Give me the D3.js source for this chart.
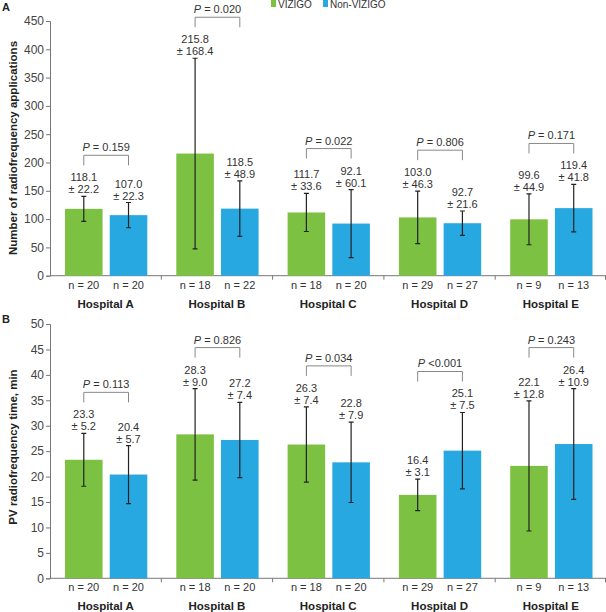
<!DOCTYPE html>
<html lang="en">
<head>
<meta charset="utf-8">
<script src="https://d3js.org/d3.v7.min.js"></script>
<style>
  body { margin: 0; background: #fff; }
  svg { font-family: "Liberation Sans", Arial, sans-serif; display: block; }
</style>
</head>
<body>
<div id="my_dataviz"></div>
<script>
// data
var hospitals = ["Hospital A", "Hospital B", "Hospital C", "Hospital D", "Hospital E"];
var groups = ["VIZIGO", "Non-VIZIGO"];

// panel A: number of radiofrequency applications (mean, SD)
var appsVizigoMean = [118.1, 215.8, 111.7, 103.0, 99.6];
var appsVizigoSd   = [22.2, 168.4, 33.6, 46.3, 44.9];
var appsNonMean    = [107.0, 118.5, 92.1, 92.7, 119.4];
var appsNonSd      = [22.3, 48.9, 60.1, 21.6, 41.8];
var appsVizigoN    = [20, 18, 18, 29, 9];
var appsNonN       = [20, 22, 20, 27, 13];
var appsP          = ["= 0.159", "= 0.020", "= 0.022", "= 0.806", "= 0.171"];
var appsTicks      = [0, 50, 100, 150, 200, 250, 300, 350, 400, 450];

// panel B: PV radiofrequency time, min (mean, SD)
var timeVizigoMean = [23.3, 28.3, 26.3, 16.4, 22.1];
var timeVizigoSd   = [5.2, 9.0, 7.4, 3.1, 12.8];
var timeNonMean    = [20.4, 27.2, 22.8, 25.1, 26.4];
var timeNonSd      = [5.7, 7.4, 7.9, 7.5, 10.9];
var timeVizigoN    = [20, 18, 18, 29, 9];
var timeNonN       = [20, 20, 20, 27, 13];
var timeP          = ["= 0.113", "= 0.826", "= 0.034", "<0.001", "= 0.243"];
var timeTicks      = [0, 5, 10, 15, 20, 25, 30, 35, 40, 45, 50];

var W = 606, H = 612;
var colors = {"VIZIGO": "#7dc142", "Non-VIZIGO": "#27a8e0"};

var svg = d3.select("#my_dataviz")
  .append("svg")
  .attr("width", W)
  .attr("height", H);

var x = d3.scaleBand()
  .domain(hospitals)
  .range([50, 606.5])
  .paddingInner(0)
  .paddingOuter(0);

var x1 = d3.scaleBand()
  .domain(groups)
  .range([15, x.bandwidth() - 14])
  .paddingInner(0.16);

// legend
groups.forEach(function(g, i) {
  var lx = i == 0 ? 271 : 323;
  svg.append("rect").attr("x", lx).attr("y", 0).attr("width", 5).attr("height", 7)
    .style("fill", colors[g]);
  svg.append("text").attr("x", lx + 7).attr("y", 8)
    .attr("font-size", "10px").attr("fill", "#333")
    .text(g);
});

function drawPanel(opt) {
  var y = d3.scaleLinear().domain(opt.domain).range(opt.range);
  var g = svg.append("g");

  // panel letter
  g.append("text").attr("x", 2).attr("y", opt.letterY)
    .attr("font-size", "11px").attr("font-weight", "bold").attr("fill", "#222")
    .text(opt.letter);

  // y axis
  var yAxis = g.append("g")
    .attr("transform", "translate(50,0)")
    .call(d3.axisLeft(y).tickValues(opt.ticks).tickSize(4).tickPadding(2));
  yAxis.selectAll("path, line").attr("stroke", "#777");
  yAxis.selectAll("text").attr("font-size", "12px").attr("fill", "#444")
    .attr("font-family", "Liberation Sans, Arial, sans-serif");

  // y title
  g.append("text")
    .attr("transform", "translate(17," + opt.titleY + ") rotate(-90)")
    .attr("text-anchor", "middle")
    .attr("font-size", "11.5px").attr("font-weight", "bold").attr("fill", "#222")
    .text(opt.title);

  // x axis with dividers between hospitals
  var y0 = y(0);
  g.append("line").attr("x1", 50).attr("x2", W).attr("y1", y0).attr("y2", y0)
    .attr("stroke", "#777");
  hospitals.forEach(function(h, i) {
    if (i > 0) {
      g.append("line").attr("x1", x(h)).attr("x2", x(h)).attr("y1", y0).attr("y2", y0 + 4)
        .attr("stroke", "#777");
    }
  });
  g.append("line").attr("x1", W - 0.5).attr("x2", W - 0.5).attr("y1", y0).attr("y2", y0 + 4)
    .attr("stroke", "#777");

  var rows = hospitals.map(function(h, i) {
    return {
      hospital: h,
      bars: [
        {group: "VIZIGO", mean: opt.vMean[i], sd: opt.vSd[i], n: opt.vN[i]},
        {group: "Non-VIZIGO", mean: opt.nMean[i], sd: opt.nSd[i], n: opt.nN[i]}
      ],
      p: opt.p[i]
    };
  });

  var grp = g.selectAll(".hosp")
    .data(rows)
    .enter()
    .append("g")
    .attr("class", "hosp")
    .attr("transform", function(d) { return "translate(" + x(d.hospital) + ",0)"; });

  // bars
  grp.selectAll(".bar")
    .data(function(d) { return d.bars; })
    .enter()
    .append("rect")
    .attr("x", function(d) { return x1(d.group); })
    .attr("y", function(d) { return y(d.mean); })
    .attr("width", x1.bandwidth())
    .attr("height", function(d) { return y0 - y(d.mean); })
    .style("fill", function(d) { return colors[d.group]; });

  // error bars
  var cx = function(d) { return x1(d.group) + x1.bandwidth() / 2; };
  grp.selectAll(".err")
    .data(function(d) { return d.bars; })
    .enter()
    .append("path")
    .attr("d", function(d) {
      var c = cx(d), t = y(d.mean + d.sd), b = y(d.mean - d.sd);
      return "M" + c + "," + t + "V" + b +
        "M" + (c - 2.5) + "," + t + "H" + (c + 2.5) +
        "M" + (c - 2.5) + "," + b + "H" + (c + 2.5);
    })
    .attr("stroke", "#222").attr("stroke-width", 1.2).attr("fill", "none");

  // value labels
  grp.selectAll(".val1")
    .data(function(d) { return d.bars; })
    .enter()
    .append("text")
    .attr("x", cx)
    .attr("y", function(d) { return y(d.mean + d.sd) - 15; })
    .attr("text-anchor", "middle").attr("font-size", "11px").attr("fill", "#333")
    .text(function(d) { return d.mean.toFixed(1); });
  grp.selectAll(".val2")
    .data(function(d) { return d.bars; })
    .enter()
    .append("text")
    .attr("x", cx)
    .attr("y", function(d) { return y(d.mean + d.sd) - 3; })
    .attr("text-anchor", "middle").attr("font-size", "11px").attr("fill", "#333")
    .text(function(d) { return "\u00b1 " + d.sd.toFixed(1); });

  // n labels
  grp.selectAll(".n")
    .data(function(d) { return d.bars; })
    .enter()
    .append("text")
    .attr("x", cx)
    .attr("y", y0 + 13)
    .attr("text-anchor", "middle").attr("font-size", "11px").attr("fill", "#333")
    .text(function(d) { return "n = " + d.n; });

  // hospital labels
  grp.append("text")
    .attr("x", x.bandwidth() / 2)
    .attr("y", opt.hospY)
    .attr("text-anchor", "middle").attr("font-size", "11.5px").attr("font-weight", "bold")
    .attr("fill", "#222")
    .text(function(d) { return d.hospital; });

  // P brackets
  grp.each(function(d) {
    var sel = d3.select(this);
    var c0 = cx(d.bars[0]), c1 = cx(d.bars[1]);
    var top = Math.min(y(d.bars[0].mean + d.bars[0].sd), y(d.bars[1].mean + d.bars[1].sd)) - 41;
    sel.append("path")
      .attr("d", "M" + c0 + "," + (top + 10) + "V" + top + "H" + c1 + "V" + (top + 10))
      .attr("stroke", "#888").attr("stroke-width", 1).attr("fill", "none");
    var t = sel.append("text")
      .attr("x", (c0 + c1) / 2).attr("y", top - 4)
      .attr("text-anchor", "middle").attr("font-size", "11px").attr("fill", "#333");
    t.append("tspan").attr("font-style", "italic").text("P");
    t.append("tspan").text(" " + d.p);
  });
}

drawPanel({
  letter: "A", letterY: 11,
  domain: [0, 450], range: [275.7, 21], ticks: appsTicks,
  title: "Number of radiofrequency applications", titleY: 148,
  vMean: appsVizigoMean, vSd: appsVizigoSd, vN: appsVizigoN,
  nMean: appsNonMean, nSd: appsNonSd, nN: appsNonN,
  p: appsP, hospY: 308
});

drawPanel({
  letter: "B", letterY: 323,
  domain: [0, 50], range: [578.3, 324], ticks: timeTicks,
  title: "PV radiofrequency time, min", titleY: 447,
  vMean: timeVizigoMean, vSd: timeVizigoSd, vN: timeVizigoN,
  nMean: timeNonMean, nSd: timeNonSd, nN: timeNonN,
  p: timeP, hospY: 610
});
</script>
</body>
</html>
